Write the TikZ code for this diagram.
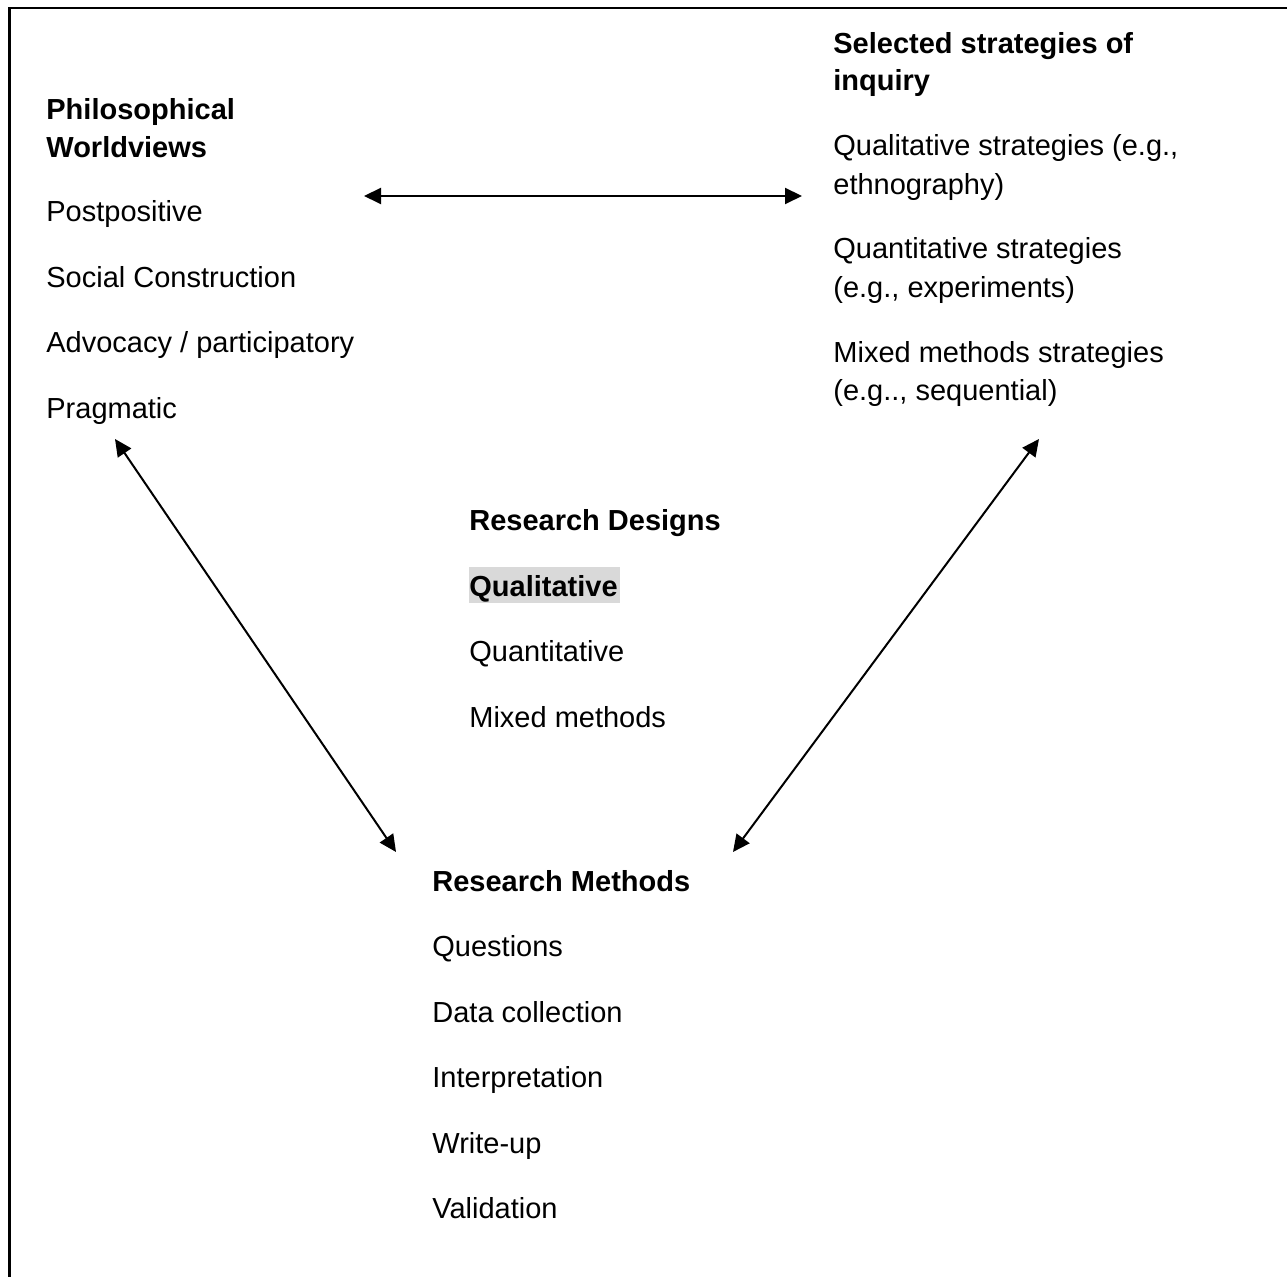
\documentclass[tikz,border=0pt]{standalone}
\usepackage{fontspec}
\setmainfont{Liberation Sans}
\usetikzlibrary{arrows.meta}
\begin{document}
\begin{tikzpicture}[x=0.5pt,y=-0.5pt,
  txt/.style={anchor=base west,inner sep=0pt,font=\fontsize{14.5}{17}\selectfont},
  head/.style={txt,font=\fontsize{14.5}{17}\selectfont\bfseries},
  link/.style={line width=1pt,{Triangle[length=8.5pt,width=8pt]}-{Triangle[length=8.5pt,width=8pt]}}]
\useasboundingbox (0,0) rectangle (1287,1277);
% frame: top and left edges
\draw[line width=1.4pt] (9.5,1277) -- (9.5,8) -- (1287,8);

% philosophical worldviews
\node[head] (pw1) at (46,120) {Philosophical};
\node[head] (pw2) at (46,158) {Worldviews};
\node[txt] (pw3) at (46,222) {Postpositive};
\node[txt] (pw4) at (46,288) {Social Construction};
\node[txt] (pw5) at (46,353) {Advocacy / participatory};
\node[txt] (pw6) at (46,419) {Pragmatic};

% strategies of inquiry
\node[head] (si1) at (833,54) {Selected strategies of};
\node[head] (si2) at (833,91) {inquiry};
\node[txt] (si3) at (833,156) {Qualitative strategies (e.g.,};
\node[txt] (si4) at (833,195) {ethnography)};
\node[txt] (si5) at (833,259) {Quantitative strategies};
\node[txt] (si6) at (833,298) {(e.g., experiments)};
\node[txt] (si7) at (833,363) {Mixed methods strategies};
\node[txt] (si8) at (833,401) {(e.g.., sequential)};

% research designs
\node[head] (rd1) at (469,531) {Research Designs};
\fill[gray!30] (469,567) rectangle (620,603);
\node[head] (rd2) at (469,597) {Qualitative};
\node[txt] (rd3) at (469,662) {Quantitative};
\node[txt] (rd4) at (469,728) {Mixed methods};

% research methods
\node[head] (rm1) at (432,892) {Research Methods};
\node[txt] (rm2) at (432,957) {Questions};
\node[txt] (rm3) at (432,1023) {Data collection};
\node[txt] (rm4) at (432,1088) {Interpretation};
\node[txt] (rm5) at (432,1154) {Write-up};
\node[txt] (rm6) at (432,1219) {Validation};

% arrow end points
\coordinate (hA) at (364,196);
\coordinate (hB) at (802,196);
\coordinate (lA) at (115,439);
\coordinate (lB) at (396,852);
\coordinate (rA) at (1039,439);
\coordinate (rB) at (733,852);

\draw[link] (hA) -- (hB);
\draw[link] (lA) -- (lB);
\draw[link] (rA) -- (rB);
\end{tikzpicture}
\end{document}
